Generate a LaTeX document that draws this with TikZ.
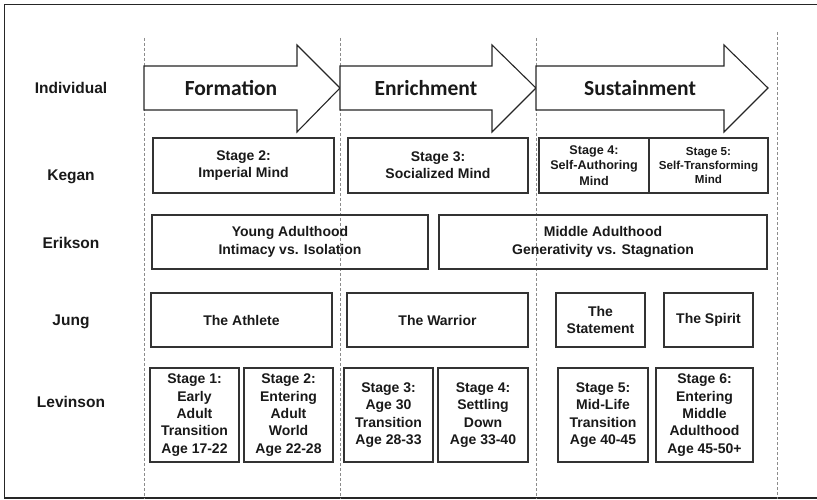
\documentclass[tikz,border=0pt]{standalone}
\usepackage{fontspec}
\newfontfamily\labelfont{Liberation Sans}
\newfontfamily\phasefont{Carlito}
\begin{document}
\begin{tikzpicture}[x=1pt,y=-1pt,
  frameline/.style={line width=1.6pt,draw=black!85},
  guide/.style={draw=black!45,line width=0.8pt,dash pattern=on 3pt off 2pt},
  phasearrow/.style={draw=black!85,line width=1.1pt,fill=white},
  phaselabel/.style={font=\phasefont\bfseries\fontsize{21.5}{24}\selectfont,text=black!90},
  rowlabel/.style={font=\labelfont\bfseries\fontsize{15.5}{18}\selectfont,text=black!90},
  cell/.style={draw=black!80,line width=1.1pt,inner sep=0pt,align=center,
    font=\labelfont\bfseries\fontsize{14}{17.3}\selectfont,text=black!90},
  cellsmall/.style={cell,font=\labelfont\bfseries\fontsize{12.6}{15.5}\selectfont},
  celltiny/.style={cell,font=\labelfont\bfseries\fontsize{11.6}{13.8}\selectfont}]
\useasboundingbox (0,0) rectangle (817,500);

% outer frame (right side runs past the page edge)
\draw[frameline] (830,4.5) -- (4.5,4.5) -- (4.5,498) -- (830,498);

% dashed phase boundaries
\foreach \gx/\gy in {144/38, 340/38, 536/38, 777/32}
  \draw[guide] (\gx,\gy) -- (\gx,499);

% phase arrows
\draw[phasearrow] (144,66) -- (297,66) -- (297,45) -- (340,88) -- (297,132) -- (297,110) -- (144,110) -- cycle;
\draw[phasearrow] (340,66) -- (492,66) -- (492,45) -- (536,88) -- (492,132) -- (492,110) -- (340,110) -- cycle;
\draw[phasearrow] (536,66) -- (724,66) -- (724,45) -- (768,88) -- (724,132) -- (724,110) -- (536,110) -- cycle;
\node[phaselabel] (formation) at (231,88) {Formation};
\node[phaselabel] (enrichment) at (426,88) {Enrichment};
\node[phaselabel] (sustainment) at (640,88) {Sustainment};

% row labels
\node[rowlabel] (individual) at (71,88) {Individual};
\node[rowlabel] (kegan) at (71,177) {Kegan};
\node[rowlabel] (erikson) at (71,243) {Erikson};
\node[rowlabel] (jung) at (71,322) {Jung};
\node[rowlabel] (levinson) at (71,402) {Levinson};

% Kegan
\node[cell,minimum width=181pt,minimum height=55pt] (k2) at (243.5,165.5) {Stage 2:\\Imperial Mind};
\node[cell,minimum width=180pt,minimum height=55pt] (k3) at (438,165.5) {Stage 3:\\Socialized Mind};
\node[cellsmall,minimum width=110pt,minimum height=55pt] (k4) at (594,165.5) {Stage 4:\\Self-Authoring\\Mind};
\node[celltiny,minimum width=119pt,minimum height=55pt] (k5) at (708.5,165.5) {Stage 5:\\Self-Transforming\\Mind};

% Erikson
\node[cell,minimum width=276pt,minimum height=54pt] (e1) at (290,242) {Young Adulthood\\Intimacy vs. Isolation};
\node[cell,minimum width=328pt,minimum height=54pt] (e2) at (603,242) {Middle Adulthood\\Generativity vs. Stagnation};

% Jung
\node[cell,minimum width=181pt,minimum height=54pt] (j1) at (241.5,320) {The Athlete};
\node[cell,minimum width=181pt,minimum height=54pt] (j2) at (437.5,320) {The Warrior};
\node[cell,minimum width=89pt,minimum height=54pt] (j3) at (600.5,320) {The\\Statement};
\node[cell,minimum width=89pt,minimum height=54pt] (j4) at (708.5,320) {The Spirit};

% Levinson
\node[cell,minimum width=89pt,minimum height=94pt] (l1) at (194.5,415) {Stage 1:\\Early\\Adult\\Transition\\Age 17-22};
\node[cell,minimum width=89pt,minimum height=94pt] (l2) at (288.5,415) {Stage 2:\\Entering\\Adult\\World\\Age 22-28};
\node[cell,minimum width=89pt,minimum height=94pt] (l3) at (388.5,415) {Stage 3:\\Age 30\\Transition\\Age 28-33};
\node[cell,minimum width=90pt,minimum height=94pt] (l4) at (483,415) {Stage 4:\\Settling\\Down\\Age 33-40};
\node[cell,minimum width=90pt,minimum height=94pt] (l5) at (603,415) {Stage 5:\\Mid-Life\\Transition\\Age 40-45};
\node[cell,minimum width=97pt,minimum height=94pt] (l6) at (704.5,415) {Stage 6:\\Entering\\Middle\\Adulthood\\Age 45-50+};
\end{tikzpicture}
\end{document}
